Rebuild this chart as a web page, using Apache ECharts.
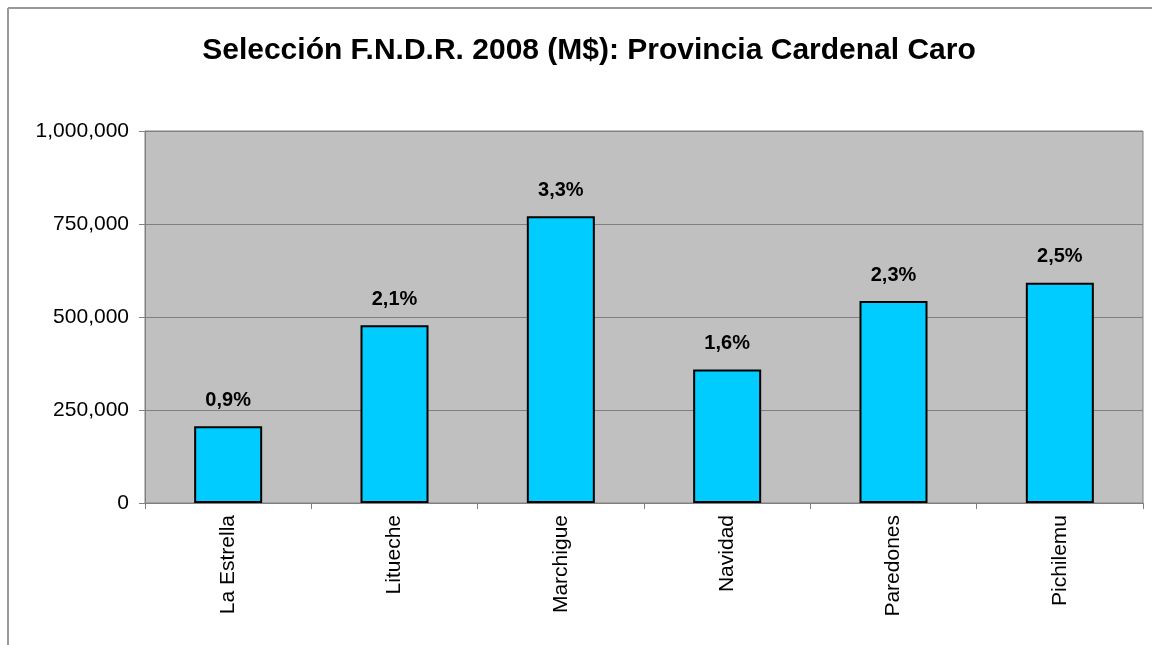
<!DOCTYPE html>
<html>
<head>
<meta charset="utf-8">
<script src="https://cdn.jsdelivr.net/npm/echarts@6/dist/echarts.min.js"></script>
<style>
  html, body { margin: 0; padding: 0; background: #fff; }
  #chart { width: 1152px; height: 645px; }
</style>
</head>
<body>
<div id="chart"></div>
<script>
// comunas de la provincia
const comunas = ["La Estrella", "Litueche", "Marchigue", "Navidad", "Paredones", "Pichilemu"];
// monto seleccionado (M$)
const montos = [206000, 478000, 771000, 359000, 543000, 592000];
// porcentaje del total regional
const porcentajes = ["0,9%", "2,1%", "3,3%", "1,6%", "2,3%", "2,5%"];
const yTicks = [0, 250000, 500000, 750000, 1000000];

const chart = echarts.init(document.getElementById("chart"));
chart.setOption({
  animation: false,
  backgroundColor: "#fff",
  textStyle: { fontFamily: "Liberation Sans, Arial, sans-serif" },
  title: {
    text: "Selección F.N.D.R. 2008 (M$): Provincia Cardenal Caro",
    left: 584,
    textAlign: "center",
    top: 31,
    textStyle: { fontSize: 30, fontWeight: "bold", color: "#000" },
  },
  graphic: [
    { type: "line", shape: { x1: 8, y1: 8, x2: 1152, y2: 8 }, style: { stroke: "#999", lineWidth: 2 } },
    { type: "line", shape: { x1: 8, y1: 8, x2: 8, y2: 645 }, style: { stroke: "#999", lineWidth: 2 } },
  ],
  grid: {
    left: 145,
    right: 9,
    top: 131,
    bottom: 142,
    show: true,
    backgroundColor: "#c0c0c0",
    borderColor: "#808080",
    borderWidth: 1,
  },
  xAxis: {
    type: "category",
    data: comunas,
    axisLine: { lineStyle: { color: "#808080" } },
    axisTick: { show: true, length: 6, lineStyle: { color: "#808080" } },
    axisLabel: {
      rotate: 90,
      fontSize: 21,
      color: "#000",
      margin: 12,
    },
  },
  yAxis: {
    type: "value",
    min: yTicks[0],
    max: yTicks[yTicks.length - 1],
    interval: 250000,
    axisLine: { show: true, lineStyle: { color: "#808080" } },
    axisTick: { show: true, length: 6, lineStyle: { color: "#808080" } },
    axisLabel: {
      fontSize: 21,
      color: "#000",
      margin: 16,
      formatter: (v) => v.toLocaleString("en-US"),
    },
    splitLine: { lineStyle: { color: "#808080", width: 1 } },
  },
  series: [
    {
      type: "bar",
      data: montos,
      barWidth: 68,
      itemStyle: { color: "#00ccff", borderColor: "#000", borderWidth: 2 },
      label: {
        show: true,
        position: "top",
        distance: 16,
        fontSize: 20,
        fontWeight: "bold",
        color: "#000",
        formatter: (p) => porcentajes[p.dataIndex],
      },
    },
  ],
});
</script>
</body>
</html>
